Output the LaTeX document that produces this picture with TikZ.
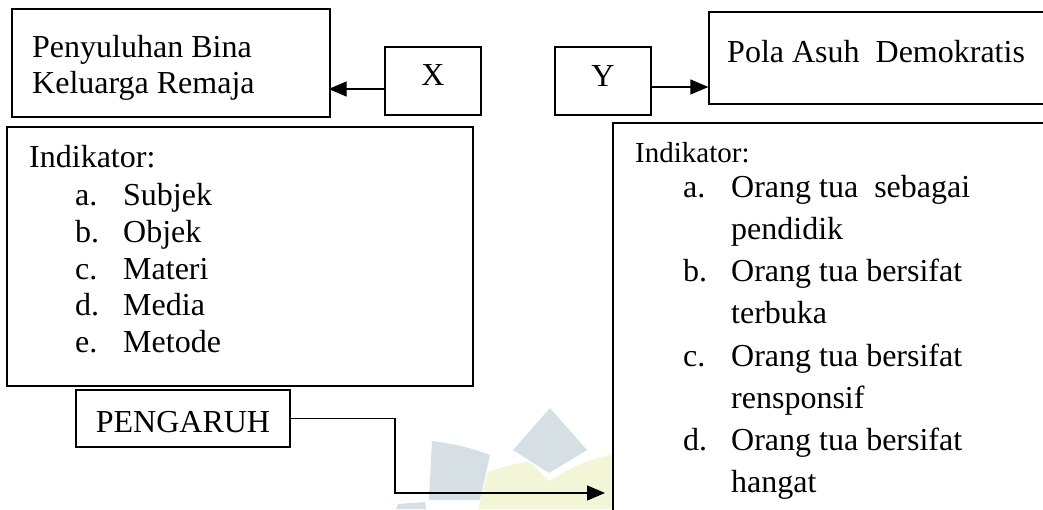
\documentclass[tikz,border=0pt]{standalone}
\usepackage{fontspec}
\setmainfont{Liberation Serif}
\usetikzlibrary{arrows.meta}
\definecolor{wmgray}{RGB}{214,224,228}
\definecolor{wmyellow}{RGB}{243,246,214}
\tikzset{
  box/.style={draw=black, line width=1.2pt, rectangle, inner sep=0pt},
  txt/.style={anchor=base west, inner sep=0pt, font=\fontsize{32}{36}\selectfont},
  smalltxt/.style={anchor=base west, inner sep=0pt, font=\fontsize{29}{33}\selectfont},
  arr/.style={draw=black, line width=1.2pt, -{Triangle[length=18pt,width=15pt]}}
}
\begin{document}
\begin{tikzpicture}[x=1pt,y=1pt]
\useasboundingbox (0,0) rectangle (1043,-509);
\clip (0,0) rectangle (1043,-509);
% faint watermark
\fill[wmgray] (432,-441) .. controls (455,-444) and (472,-448) .. (490,-455) -- (480,-500) -- (429,-500) -- cycle;
\fill[wmgray] (550,-408) -- (587,-450) -- (549,-473) -- (513,-450) -- cycle;
\fill[wmyellow] (488,-472) .. controls (505,-466) and (520,-462) .. (530,-462) -- (549,-481) -- (575,-466) .. controls (590,-460) and (602,-456) .. (612,-455) -- (612,-509) -- (478,-509) -- cycle;
\fill[wmgray] (398,-504) -- (425,-502) -- (426,-509) -- (396,-509) -- cycle;
% boxes
\node[box, minimum width=318, minimum height=108] (pen) at (171,-63) {};
\node[box, minimum width=96, minimum height=68] (xbox) at (433,-81) {};
\node[box, minimum width=96, minimum height=68] (ybox) at (603,-81) {};
\node[box, minimum width=351, minimum height=92] (pola) at (884.5,-58) {};
\node[box, minimum width=466, minimum height=259] (lind) at (240,-256.5) {};
\node[box, minimum width=447, minimum height=397] (rind) at (836.5,-321.5) {};
\node[box, minimum width=214, minimum height=57] (peng) at (183,-418.5) {};
% texts
\node[txt] (penA) at (32,-57) {Penyuluhan Bina};
\node[txt] (penB) at (32,-93) {Keluarga Remaja};
\node[txt, anchor=base] (xtxt) at (433,-85) {X};
\node[txt, anchor=base] (ytxt) at (603,-86) {Y};
\node[txt] (polatxt) at (727,-62) {Pola Asuh~~Demokratis};
\node[txt] (lhead) at (29,-167) {Indikator:};
\node[txt] (la) at (75,-205) {a.};
\node[txt] (lat) at (123,-205) {Subjek};
\node[txt] (lb) at (75,-242) {b.};
\node[txt] (lbt) at (123,-242) {Objek};
\node[txt] (lc) at (75,-279) {c.};
\node[txt] (lct) at (123,-279) {Materi};
\node[txt] (ld) at (75,-315) {d.};
\node[txt] (ldt) at (123,-315) {Media};
\node[txt] (le) at (75,-352) {e.};
\node[txt] (let) at (123,-352) {Metode};
\node[smalltxt] (rhead) at (635,-162) {Indikator:};
\node[txt] (ra) at (683,-197) {a.};
\node[txt] (rat) at (731,-197) {Orang tua~~sebagai};
\node[txt] (rat2) at (731,-239) {pendidik};
\node[txt] (rb) at (683,-281) {b.};
\node[txt] (rbt) at (731,-281) {Orang tua bersifat};
\node[txt] (rbt2) at (731,-323) {terbuka};
\node[txt] (rc) at (683,-366) {c.};
\node[txt] (rct) at (731,-366) {Orang tua bersifat};
\node[txt] (rct2) at (731,-408) {rensponsif};
\node[txt] (rd) at (683,-450) {d.};
\node[txt] (rdt) at (731,-450) {Orang tua bersifat};
\node[txt] (rdt2) at (731,-492) {hangat};
\node[txt, anchor=base] (pengtxt) at (183,-432) {PENGARUH};
% connectors
\draw[arr, shorten >=-2pt] ([yshift=-8pt]xbox.west) -- ([yshift=-8pt]xbox.west -| pen.east);
\draw[arr] ([yshift=-6pt]ybox.east) -- ([yshift=-6pt]ybox.east -| pola.west);
\coordinate (pbend) at (395,-493);
\coordinate (ptip) at (605,-493);
\draw[arr] (peng.east) -| (pbend) -- (ptip);
\end{tikzpicture}
\end{document}
